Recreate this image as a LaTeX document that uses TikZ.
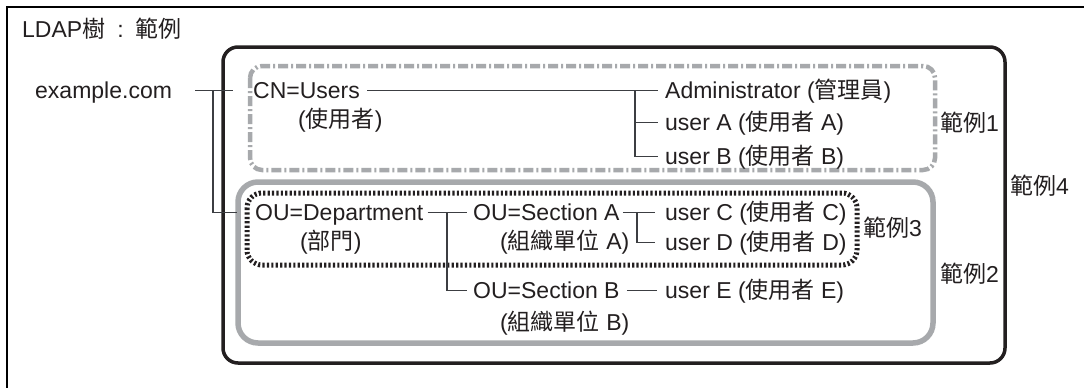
\documentclass[tikz,border=0pt]{standalone}
\usepackage{fontspec}
\setmainfont{Liberation Sans}
\newfontfamily\cjk{Noto Sans CJK TC}
\newcommand{\cj}[1]{{\cjk #1}}
\definecolor{boxgray}{RGB}{167,169,172}
\definecolor{ink}{RGB}{35,31,32}
\definecolor{linecol}{RGB}{60,62,66}
\begin{document}
\begin{tikzpicture}[x=1pt,y=-1pt,
  lbl/.style={inner sep=0pt, anchor=base west, font=\fontsize{23}{27}\selectfont, text=ink},
  conn/.style={draw=linecol, line width=1.2pt},
  frameline/.style={draw=black, line width=2.2pt},
  box4/.style={draw=ink, line width=3.5pt, rounded corners=15pt},
  box1/.style={draw=boxgray, line width=4.5pt, rounded corners=12pt, dash pattern=on 10pt off 3pt on 2pt off 3pt},
  box2/.style={draw=boxgray, line width=5.5pt, rounded corners=20pt},
  box3/.style={draw=ink, line width=5pt, rounded corners=15pt, dash pattern=on 2.2pt off 2.2pt}]
\useasboundingbox (0,0) rectangle (1084,388);
\fill[white] (0,0) rectangle (1084,388);
% outer frame (only left and top edges visible)
\draw[frameline] (7,388) -- (7,7) -- (1084,7);
% boxes
\draw[box4] (223,47) rectangle (1005,363);
\draw[box1] (250,66) rectangle (935,170);
\draw[box2] (238,182) rectangle (933,343);
\draw[box3] (247,193) rectangle (857,265);
% texts
\node[lbl] (title) at (22,37) {LDAP\cj{樹}\hspace{12pt}:\hspace{12pt}\cj{範例}};
\node[lbl] (ex) at (35,98) {example.com};
\node[lbl] (cn) at (253,98) {CN=Users};
\node[lbl] (cnz) at (298,127) {(\cj{使用者})};
\node[lbl] (adm) at (665,98) {Administrator (\cj{管理員})};
\node[lbl] (ua) at (665,130) {user A (\cj{使用者} A)};
\node[lbl] (ub) at (665,164) {user B (\cj{使用者} B)};
\node[lbl] (l1) at (940,131) {\cj{範例}1};
\node[lbl] (l4) at (1010,194) {\cj{範例}4};
\node[lbl] (dep) at (255,220) {OU=Department};
\node[lbl] (depz) at (300,249) {(\cj{部門})};
\node[lbl] (sa) at (473,220) {OU=Section A};
\node[lbl] (saz) at (500,249) {(\cj{組織單位} A)};
\node[lbl] (uc) at (665,220) {user C (\cj{使用者} C)};
\node[lbl] (ud) at (665,250) {user D (\cj{使用者} D)};
\node[lbl] (l3) at (863,236) {\cj{範例}3};
\node[lbl] (sb) at (473,298) {OU=Section B};
\node[lbl] (sbz) at (500,330) {(\cj{組織單位} B)};
\node[lbl] (ue) at (665,298) {user E (\cj{使用者} E)};
\node[lbl] (l2) at (940,282) {\cj{範例}2};
% connectors
\coordinate (exR) at ([shift={(23pt,7.5pt)}]ex.base east);
\coordinate (cnL) at ([shift={(-20pt,7.5pt)}]cn.base west);
\coordinate (depL) at ([shift={(-18pt,7.5pt)}]dep.base west);
\coordinate (exJ) at (213,90.5);
\draw[conn] (exR) -- (cnL);
\draw[conn] (exJ) |- (depL);
\coordinate (cnR) at ([shift={(7pt,7.5pt)}]cn.base east);
\coordinate (admL) at ([shift={(-7pt,7.5pt)}]adm.base west);
\coordinate (uaL) at ([shift={(-7pt,7.5pt)}]ua.base west);
\coordinate (ubL) at ([shift={(-7pt,7.5pt)}]ub.base west);
\coordinate (cnJ) at (635,90.5);
\draw[conn] (cnR) -- (admL);
\draw[conn] (cnJ) |- (ubL);
\draw[conn] (cnJ |- uaL) -- (uaL);
\coordinate (depR) at ([shift={(4pt,7.5pt)}]dep.base east);
\coordinate (saL) at ([shift={(-6pt,7.5pt)}]sa.base west);
\coordinate (sbL) at ([shift={(-6pt,7.5pt)}]sb.base west);
\coordinate (depJ) at (447,212.5);
\draw[conn] (depR) -- (saL);
\draw[conn] (depJ) |- (sbL);
\coordinate (saR) at ([shift={(3pt,7.5pt)}]sa.base east);
\coordinate (ucL) at ([shift={(-10pt,7.5pt)}]uc.base west);
\coordinate (udL) at ([shift={(-10pt,7.5pt)}]ud.base west);
\coordinate (saJ) at (637,212.5);
\draw[conn] (saR) -- (ucL);
\draw[conn] (saJ) |- (udL);
\coordinate (sbR) at ([shift={(7pt,7.5pt)}]sb.base east);
\coordinate (ueL) at ([shift={(-8pt,7.5pt)}]ue.base west);
\draw[conn] (sbR) -- (ueL);
\end{tikzpicture}
\end{document}
